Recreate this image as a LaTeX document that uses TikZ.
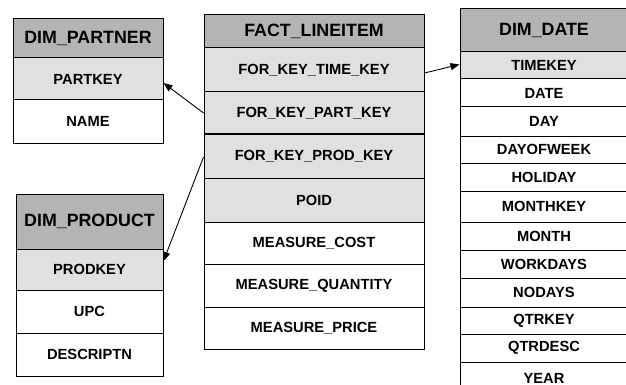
\documentclass[tikz,border=0pt]{standalone}
\usepackage{fontspec}
\setmainfont{Liberation Sans}
\usetikzlibrary{arrows.meta}
\definecolor{hdrgray}{RGB}{180,180,180}
\definecolor{keygray}{RGB}{224,224,224}
\tikzset{
  cell/.style={draw=black, line width=1pt, inner sep=0pt, align=center,
    font=\fontsize{14.7}{16}\selectfont\bfseries},
  hdr/.style={cell, fill=hdrgray, font=\fontsize{17.8}{20}\selectfont\bfseries},
  keycell/.style={cell, fill=keygray},
  plain/.style={cell, fill=white},
  link/.style={line width=0.9pt, -{Triangle[length=9pt,width=7pt]}}
}
\begin{document}
\begin{tikzpicture}[x=1pt, y=-1pt]
\useasboundingbox (0,0) rectangle (626,385);
\clip (0,0) rectangle (626,385);

% DIM_PARTNER
\node[hdr,     minimum width=150pt, minimum height=39pt] (ph) at (88,38.5)  {DIM\_PARTNER};
\node[keycell, minimum width=150pt, minimum height=42pt] (p1) at (88,79)    {PARTKEY};
\node[plain,   minimum width=150pt, minimum height=43pt] (p2) at (88,121.5) {NAME};

% DIM_PRODUCT
\node[hdr,     minimum width=147pt, minimum height=55pt] (rh) at (89.5,221.5) {DIM\_PRODUCT};
\node[keycell, minimum width=147pt, minimum height=41pt] (r1) at (89.5,269.5) {PRODKEY};
\node[plain,   minimum width=147pt, minimum height=43pt] (r2) at (89.5,311.5) {UPC};
\node[plain,   minimum width=147pt, minimum height=43pt] (r3) at (89.5,354.5) {DESCRIPTN};

% FACT_LINEITEM
\node[hdr,     minimum width=220pt, minimum height=33pt] (fh) at (314,31.5)  {FACT\_LINEITEM};
\node[keycell, minimum width=220pt, minimum height=44pt] (f1) at (314,70)    {FOR\_KEY\_TIME\_KEY};
\node[keycell, minimum width=220pt, minimum height=42pt] (f2) at (314,113)   {FOR\_KEY\_PART\_KEY};
\node[keycell, minimum width=220pt, minimum height=44pt] (f3) at (314,156)   {FOR\_KEY\_PROD\_KEY};
\node[keycell, minimum width=220pt, minimum height=44pt] (f4) at (314,200)   {POID};
\node[plain,   minimum width=220pt, minimum height=42pt] (f5) at (314,243)   {MEASURE\_COST};
\node[plain,   minimum width=220pt, minimum height=43pt] (f6) at (314,285.5) {MEASURE\_QUANTITY};
\node[plain,   minimum width=220pt, minimum height=42pt] (f7) at (314,328)   {MEASURE\_PRICE};

% DIM_DATE
\node[hdr,     minimum width=168pt, minimum height=43pt] (dh)  at (544,30.5)  {DIM\_DATE};
\node[keycell, minimum width=168pt, minimum height=27pt] (d1)  at (544,65.5)  {TIMEKEY};
\node[plain,   minimum width=168pt, minimum height=28pt] (d2)  at (544,93)    {DATE};
\node[plain,   minimum width=168pt, minimum height=29pt] (d3)  at (544,121.5) {DAY};
\node[plain,   minimum width=168pt, minimum height=27pt] (d4)  at (544,149.5) {DAYOFWEEK};
\node[plain,   minimum width=168pt, minimum height=28pt] (d5)  at (544,177)   {HOLIDAY};
\node[plain,   minimum width=168pt, minimum height=31pt] (d6)  at (544,206.5) {MONTHKEY};
\node[plain,   minimum width=168pt, minimum height=28pt] (d7)  at (544,236)   {MONTH};
\node[plain,   minimum width=168pt, minimum height=28pt] (d8)  at (544,264)   {WORKDAYS};
\node[plain,   minimum width=168pt, minimum height=29pt] (d9)  at (544,292.5) {NODAYS};
\node[plain,   minimum width=168pt, minimum height=27pt] (d10) at (544,320.5) {QTRKEY};
\node[plain,   minimum width=168pt, minimum height=28pt] (d11) at (544,348)   {QTRDESC};
\node[plain,   minimum width=168pt, minimum height=32pt] (d12) at (544,378)   {YEAR};

% foreign key links
\draw[link] ([yshift=-3pt]f1.east) -- ([yshift=1pt]d1.west);
\draw[link] (f2.west) -- ([yshift=-4pt]p1.east);
\draw[link] ([yshift=-1pt]f3.west) -- ([yshift=8.5pt]r1.east);
\end{tikzpicture}
\end{document}
